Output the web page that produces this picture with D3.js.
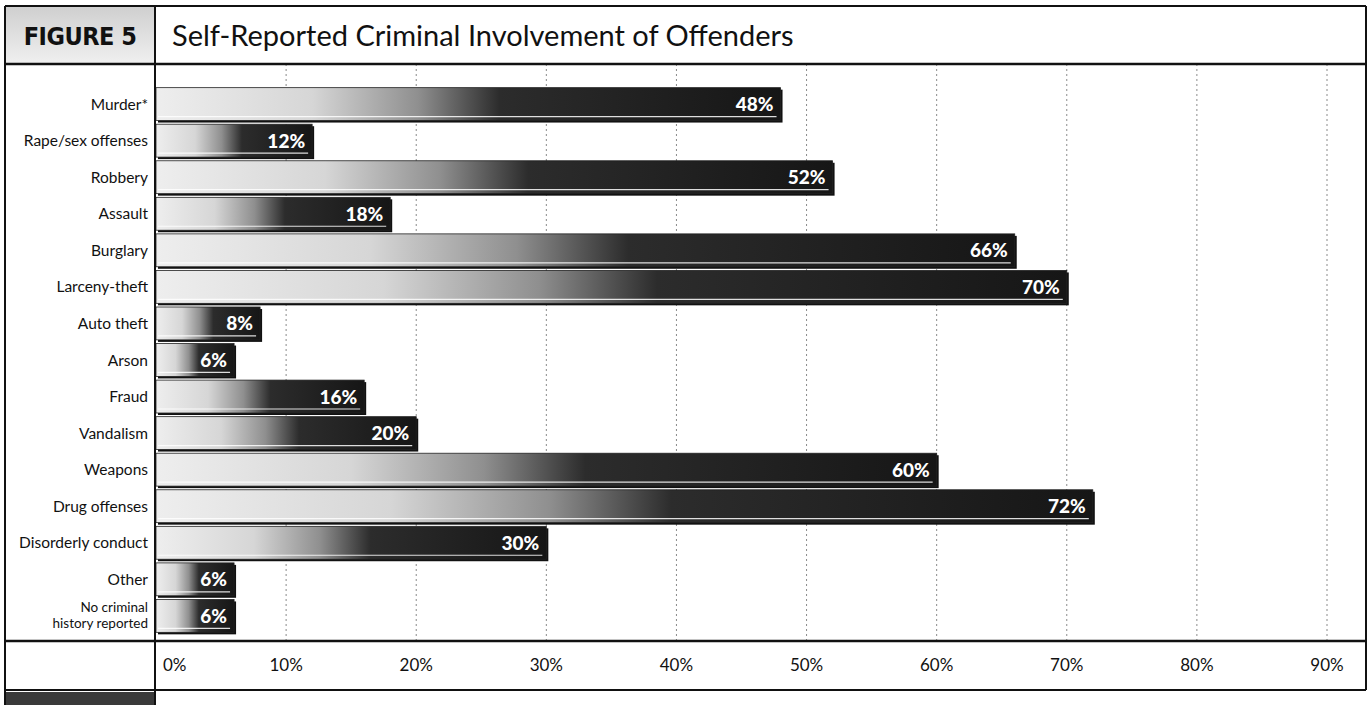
<!DOCTYPE html>
<html><head><meta charset="utf-8">
<script src="https://cdn.jsdelivr.net/npm/d3@7"></script>
<style>
html,body{margin:0;padding:0;background:#fff;}
svg{display:block;}
</style></head>
<body>
<svg id="chart" width="1369" height="705"></svg>
<script>
const categories = ["Murder*","Rape/sex offenses","Robbery","Assault","Burglary","Larceny-theft","Auto theft","Arson","Fraud","Vandalism","Weapons","Drug offenses","Disorderly conduct","Other","No criminal\nhistory reported"];
const values = [48,12,52,18,66,70,8,6,16,20,60,72,30,6,6];
const tickValues = [0,10,20,30,40,50,60,70,80,90];
const tickLabels = ["0%","10%","20%","30%","40%","50%","60%","70%","80%","90%"];
const titleText = "Self-Reported Criminal Involvement of Offenders";
const figureLabel = "FIGURE 5";

const svg = d3.select("#chart");
const font = "'Lato','Open Sans',sans-serif";

const L = 5, C = 155, R = 1366, T = 6, TB = 64, AX = 641, BB = 690;

const x = d3.scaleLinear().domain([0,90]).range([156,1327]);
const y = d3.scaleBand().domain(categories).range([84,636]).padding(0.1);

const defs = svg.append("defs");
const grad = defs.append("linearGradient").attr("id","barGrad")
  .attr("x1","0").attr("x2","1").attr("y1","0").attr("y2","0");
[[0,"#eeeeee"],[0.25,"#d6d6d6"],[0.42,"#8f8f8f"],[0.55,"#2c2c2c"],[1,"#161616"]]
  .forEach(([o,c])=>grad.append("stop").attr("offset",o).attr("stop-color",c));
const fgrad = defs.append("linearGradient").attr("id","figGrad").attr("x1","0").attr("x2","0").attr("y1","0").attr("y2","1");
[[0,"#cfcfcf"],[1,"#f0f0f0"]].forEach(([o,c])=>fgrad.append("stop").attr("offset",o).attr("stop-color",c));

// figure label cell background
svg.append("rect").attr("x",L).attr("y",T).attr("width",C-L).attr("height",TB-T).attr("fill","url(#figGrad)");
// bottom strip
svg.append("rect").attr("x",L).attr("y",BB+2).attr("width",C-L).attr("height",705-BB-2).attr("fill","#3a3a3a");

// gridlines
svg.append("g").selectAll("line").data(tickValues.filter(d=>d>0)).join("line")
  .attr("x1",d=>x(d)).attr("x2",d=>x(d)).attr("y1",TB).attr("y2",AX)
  .attr("stroke","#8a8a8a").attr("stroke-width",1).attr("stroke-dasharray","2,3");

// bars
const bars = svg.append("g").selectAll("g").data(categories).join("g");
bars.append("rect")
  .attr("x",x(0)+2).attr("y",c=>y(c)+2)
  .attr("width",(c,i)=>x(values[i])-x(0)).attr("height",y.bandwidth())
  .attr("fill","#111");
bars.append("rect")
  .attr("x",x(0)).attr("y",c=>y(c))
  .attr("width",(c,i)=>x(values[i])-x(0)).attr("height",y.bandwidth())
  .attr("fill","url(#barGrad)").attr("stroke","#222").attr("stroke-width",0.8);
bars.append("line")
  .attr("x1",x(0)+2).attr("x2",(c,i)=>x(values[i])-4)
  .attr("y1",c=>y(c)+y.bandwidth()-4).attr("y2",c=>y(c)+y.bandwidth()-4)
  .attr("stroke","#fff").attr("stroke-width",1.2).attr("opacity",0.85);
bars.append("text")
  .attr("x",(c,i)=>x(values[i])-7).attr("y",c=>y(c)+y.bandwidth()/2+7)
  .attr("text-anchor","end").attr("font-family",font).attr("font-weight","900")
  .attr("font-size",19).attr("fill","#fff")
  .text((c,i)=>values[i]+"%");

// category labels (one text element per line)
const labelLines = [];
categories.forEach(c=>{
  const parts = c.split("\n");
  const cy = y(c)+y.bandwidth()/2;
  const multi = parts.length>1;
  parts.forEach((ln,k)=>labelLines.push({
    text: ln,
    y: cy + (multi?4.5:5.5) + (k-(parts.length-1)/2)*16,
    size: multi?13.5:15.5
  }));
});
svg.append("g").selectAll("text").data(labelLines).join("text")
  .attr("text-anchor","end").attr("font-family",font).attr("fill","#111")
  .attr("x",148).attr("y",d=>d.y).attr("font-size",d=>d.size)
  .text(d=>d.text);

// x axis labels
svg.append("g").selectAll("text").data(tickValues).join("text")
  .attr("x",d=>d===0?x(d)+7:x(d)).attr("y",671)
  .attr("text-anchor",d=>d===0?"start":"middle")
  .attr("font-family",font).attr("font-size",17).attr("fill","#111")
  .text((d,i)=>tickLabels[i]);

// frame lines
const lines = [
  [L,T,R,T,2],[L,TB,R,TB,2.5],[L,AX,R,AX,2.5],[L,BB,R,BB,2],
  [L,T,L,705,2],[C,T,C,705,2],[R,T,R,BB,2]
];
svg.append("g").selectAll("line").data(lines).join("line")
  .attr("x1",d=>d[0]).attr("y1",d=>d[1]).attr("x2",d=>d[2]).attr("y2",d=>d[3])
  .attr("stroke","#111").attr("stroke-width",d=>d[4]);

// title
svg.append("text").attr("x",172).attr("y",46)
  .attr("font-family",font).attr("font-size",29).attr("fill","#111").attr("font-weight",400)
  .text(titleText);
svg.append("text").attr("x",80).attr("y",45).attr("text-anchor","middle")
  .attr("font-family","'DejaVu Sans Condensed','DejaVu Sans',sans-serif").attr("font-weight","bold")
  .attr("font-size",25).attr("fill","#111").attr("letter-spacing",-0.5)
  .text(figureLabel);
</script>
</body></html>
